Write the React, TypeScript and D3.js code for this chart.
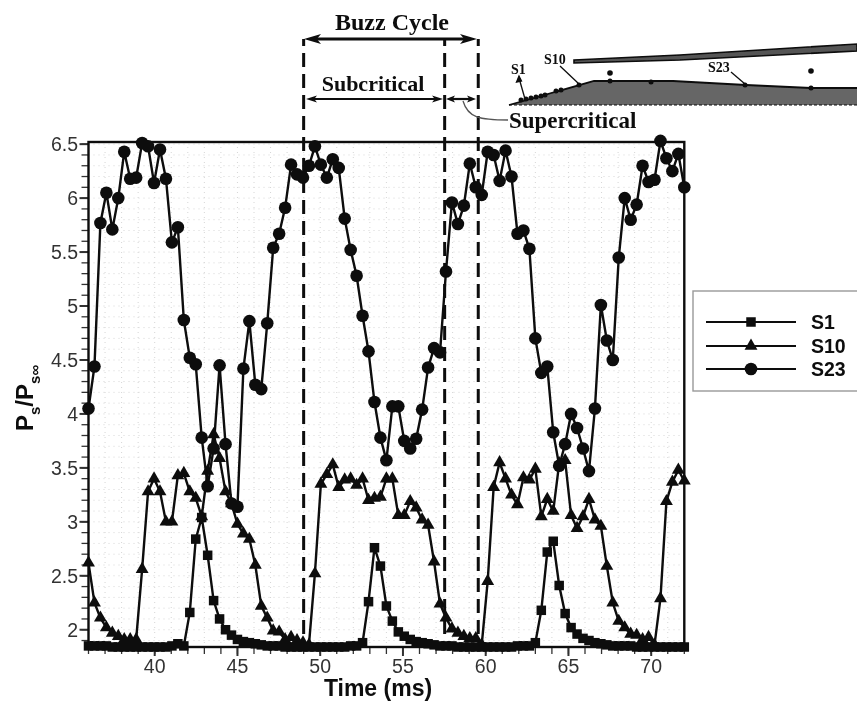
import React from "react";
import * as d3 from "d3";

const startTime = 36;
const sampleStep = 0.36;
const s1Values = [1.85,1.85,1.85,1.85,1.84,1.84,1.84,1.84,1.84,1.84,1.84,1.84,1.84,1.84,1.85,1.87,1.85,2.16,2.84,3.04,2.69,2.27,2.10,2.00,1.95,1.91,1.89,1.88,1.87,1.86,1.85,1.85,1.85,1.84,1.84,1.84,1.84,1.84,1.84,1.84,1.84,1.84,1.84,1.84,1.85,1.85,1.88,2.26,2.76,2.59,2.22,2.08,1.98,1.94,1.91,1.89,1.88,1.87,1.86,1.85,1.85,1.85,1.84,1.84,1.84,1.84,1.84,1.84,1.84,1.84,1.84,1.84,1.85,1.85,1.85,1.88,2.18,2.72,2.82,2.41,2.15,2.02,1.96,1.92,1.90,1.88,1.87,1.86,1.85,1.85,1.85,1.85,1.84,1.84,1.84,1.84,1.84,1.84,1.84,1.84,1.84];
const s10Values = [2.62,2.25,2.11,2.02,1.97,1.94,1.91,1.91,1.91,2.56,3.28,3.40,3.28,3.00,3.00,3.43,3.45,3.28,3.22,3.05,3.47,3.81,3.59,3.28,3.17,2.98,2.89,2.84,2.60,2.22,2.11,1.99,1.98,1.91,1.93,1.90,1.88,1.86,2.52,3.35,3.44,3.53,3.32,3.39,3.40,3.34,3.40,3.20,3.22,3.23,3.40,3.40,3.06,3.06,3.19,3.13,3.02,2.97,2.63,2.24,2.11,2.01,1.97,1.94,1.92,1.92,1.86,2.45,3.32,3.55,3.40,3.25,3.16,3.41,3.39,3.49,3.05,3.21,3.10,3.54,3.57,3.06,2.94,3.05,3.21,3.02,2.96,2.59,2.25,2.08,2.02,1.96,1.95,1.91,1.93,1.86,2.29,3.19,3.37,3.48,3.38];
const s23Values = [4.05,4.44,5.77,6.05,5.71,6.00,6.43,6.18,6.19,6.51,6.48,6.14,6.45,6.18,5.59,5.73,4.87,4.52,4.46,3.78,3.33,3.68,4.45,3.72,3.17,3.14,4.42,4.86,4.27,4.23,4.84,5.54,5.67,5.91,6.31,6.22,6.19,6.30,6.48,6.31,6.19,6.36,6.28,5.81,5.52,5.28,4.91,4.58,4.11,3.78,3.57,4.07,4.07,3.75,3.68,3.77,4.04,4.43,4.61,4.57,5.32,5.96,5.76,5.93,6.32,6.10,6.03,6.43,6.40,6.16,6.44,6.20,5.67,5.70,5.53,4.70,4.38,4.44,3.83,3.52,3.72,4.00,3.87,3.68,3.47,4.05,5.01,4.68,4.50,5.45,6.00,5.80,5.94,6.30,6.15,6.17,6.53,6.37,6.25,6.41,6.10];

const xMajor = [40, 45, 50, 55, 60, 65, 70];
const xMinor = d3.range(36, 73, 1);
const yMajor = [2, 2.5, 3, 3.5, 4, 4.5, 5, 5.5, 6, 6.5];
const yMinor = d3.range(19, 66, 1).map((d) => d / 10);
const cycleMarks = [49.0, 57.52, 59.55];

const cowlTop = [[574, 60], [680, 55], [857, 44]];
const cowlBottom = [[857, 51], [680, 60], [574, 63]];
const rampOutline = [[509, 105], [594, 81], [673, 81], [746, 85], [811, 88], [857, 88]];
const rampDots = [[521, 100], [526, 99], [531, 98], [536, 97], [541, 96], [545, 95], [556, 91], [561, 90], [579, 85], [610, 81], [651, 82], [745, 85], [811, 88]];
const freeDots = [[610, 73], [811, 71]];

const FONT = "'Liberation Sans', Arial, sans-serif";
const SERIF = "'Liberation Serif', 'Times New Roman', serif";
const INK = "#0c0c0c";

const x = d3.scaleLinear().domain([36, 72]).range([88.5, 684.3]);
const y = d3.scaleLinear().domain([1.84, 6.52]).range([647, 142]);

const pts = (vals: number[]) => vals.map((v, i) => [x(startTime + i * sampleStep), y(v)] as [number, number]);
const lineGen = d3.line<[number, number]>();
const triPath = d3.symbol().type(d3.symbolTriangle).size(72)() as string;

const Square = ({ cx, cy, s = 9.5 }: any) => <rect x={cx - s / 2} y={cy - s / 2} width={s} height={s} fill={INK} />;
const Tri = ({ cx, cy }: any) => <path d={triPath} transform={`translate(${cx},${cy})`} fill={INK} />;
const Dot = ({ cx, cy, r = 6.3 }: any) => <circle cx={cx} cy={cy} r={r} fill={INK} />;

const ArrowHead = ({ px, py, dir, len = 15, half = 4.5 }: any) => (
  <path d={`M${px},${py}L${px - dir * len},${py - half}L${px - dir * len * 0.75},${py}L${px - dir * len},${py + half}Z`} fill={INK} />
);

export default function App() {
  const [x0, x1] = x.range();
  const [yb, yt] = y.range();
  const legendRows = [
    { name: "S1", yy: 322, M: Square },
    { name: "S10", yy: 346, M: Tri },
    { name: "S23", yy: 369, M: Dot },
  ];
  return (
    <svg width={857} height={701} style={{ position: "absolute", left: 0, top: 0, background: "#fff" }}>
      <defs>
        <filter id="soft" x="0" y="0" width="857" height="701" filterUnits="userSpaceOnUse">
          <feGaussianBlur stdDeviation="0.6" />
        </filter>
      </defs>
      <g filter="url(#soft)">
        <rect x={0} y={0} width={857} height={701} fill="#fff" />
        {/* dotted grid */}
        <g stroke="#d6d6d6" strokeWidth={1} strokeDasharray="1 4">
          {xMinor.map((t) => <line key={t} x1={x(t)} x2={x(t)} y1={yt} y2={yb} />)}
          {yMinor.map((v) => <line key={v} x1={x0} x2={x1} y1={y(v)} y2={y(v)} />)}
        </g>

        {/* ticks */}
        <g stroke="#333" strokeWidth={1.3}>
          {yMinor.map((v) => <line key={v} x1={x0 - 7} x2={x0} y1={y(v)} y2={y(v)} />)}
          {yMajor.map((v) => <line key={v} x1={x0 - 9} x2={x0} y1={y(v)} y2={y(v)} strokeWidth={2} />)}
          {xMinor.map((t) => <line key={t} x1={x(t)} x2={x(t)} y1={yb} y2={yb + 7} />)}
          {xMajor.map((t) => <line key={t} x1={x(t)} x2={x(t)} y1={yb} y2={yb + 9} strokeWidth={2} />)}
        </g>

        {/* frame */}
        <rect x={x0} y={yt} width={x1 - x0} height={yb - yt} fill="none" stroke={INK} strokeWidth={2.4} />

        {/* series */}
        {[{ v: s1Values, M: Square }, { v: s10Values, M: Tri }, { v: s23Values, M: Dot }].map(({ v, M }, k) => {
          const p = pts(v);
          return (
            <g key={k}>
              <path d={lineGen(p) as string} fill="none" stroke={INK} strokeWidth={2.4} />
              {p.map((q, i) => <M key={i} cx={q[0]} cy={q[1]} />)}
            </g>
          );
        })}

        {/* tick labels */}
        <g fontFamily={FONT} fontSize={19.5} fill="#333">
          {yMajor.map((v) => (
            <text key={v} x={78} y={y(v)} dy="0.36em" textAnchor="end">{d3.format("")(v)}</text>
          ))}
          {xMajor.map((t) => (
            <text key={t} x={x(t)} y={673} textAnchor="middle">{t}</text>
          ))}
        </g>

        {/* axis titles */}
        <text x={378} y={695.5} textAnchor="middle" fontFamily={FONT} fontWeight={700} fontSize={23} fill={INK}>Time (ms)</text>
        <text transform="translate(33,431) rotate(-90)" fontFamily={FONT} fontWeight={700} fontSize={24} fill={INK}>
          P<tspan fontSize={15} dy={7}>s</tspan><tspan dy={-7}>/P</tspan><tspan fontSize={15} dy={7}>s∞</tspan>
        </text>

        {/* cycle markers */}
        <g stroke={INK} strokeWidth={3} strokeDasharray="14 7" strokeDashoffset={7}>
          {cycleMarks.map((t) => <line key={t} x1={x(t)} x2={x(t)} y1={39} y2={636} />)}
        </g>
        <line x1={312} x2={470} y1={39} y2={39} stroke={INK} strokeWidth={3} />
        <ArrowHead px={304} py={39} dir={-1} len={17} half={5} />
        <ArrowHead px={477} py={39} dir={1} len={17} half={5} />
        <line x1={310} x2={438} y1={99} y2={99} stroke={INK} strokeWidth={2.2} />
        <ArrowHead px={306} py={99} dir={-1} len={11} half={3.5} />
        <ArrowHead px={443} py={99} dir={1} len={11} half={3.5} />
        <line x1={450} x2={472} y1={99} y2={99} stroke={INK} strokeWidth={2.2} />
        <ArrowHead px={446} py={99} dir={-1} len={9} half={3.5} />
        <ArrowHead px={476} py={99} dir={1} len={9} half={3.5} />
        <path d="M463,101C468,118 480,120 508,120" fill="none" stroke="#555" strokeWidth={1.3} />

        <g fontFamily={SERIF} fontWeight={700} fill={INK}>
          <text x={392} y={30} textAnchor="middle" fontSize={24}>Buzz Cycle</text>
          <text x={373} y={91} textAnchor="middle" fontSize={22}>Subcritical</text>
          <text x={509} y={128} fontSize={23}>Supercritical</text>
          <text x={511} y={74} fontSize={14}>S1</text>
          <text x={544} y={64} fontSize={14}>S10</text>
          <text x={708} y={72} fontSize={14}>S23</text>
        </g>

        {/* inlet schematic */}
        <path d={`${lineGen(rampOutline as any)}L857,105L509,105Z`} fill="#666" stroke="none" />
        <path d={lineGen(rampOutline as any) as string} fill="none" stroke={INK} strokeWidth={1.8} />
        <line x1={509} x2={857} y1={105} y2={105} stroke={INK} strokeWidth={1} strokeDasharray="3 2" />
        <path d={`${lineGen(cowlTop as any)}L${cowlBottom.map((c) => c.join(",")).join("L")}Z`} fill="#555" stroke={INK} strokeWidth={1.6} />
        {rampDots.map((d, i) => <circle key={i} cx={d[0]} cy={d[1]} r={2.5} fill={INK} />)}
        {freeDots.map((d, i) => <circle key={i} cx={d[0]} cy={d[1]} r={2.8} fill={INK} />)}
        <g stroke={INK} strokeWidth={1.3} fill="none">
          <line x1={525} x2={519} y1={99} y2={78} />
          <path d="M519,76l-2.5,6l5,-1Z" fill={INK} />
          <line x1={579} x2={560} y1={84} y2={66} />
          <line x1={745} x2={731} y1={84} y2={72} />
        </g>

        {/* legend */}
        <rect x={693} y={291} width={170} height={100} fill="#fff" stroke="#999" strokeWidth={1.4} />
        {legendRows.map(({ name, yy, M }) => (
          <g key={name}>
            <line x1={706} x2={796} y1={yy} y2={yy} stroke={INK} strokeWidth={2.2} />
            <M cx={751} cy={yy} />
            <text x={811} y={yy} dy="0.36em" fontFamily={FONT} fontWeight={700} fontSize={19.5} fill={INK}>{name}</text>
          </g>
        ))}
      </g>
    </svg>
  );
}
